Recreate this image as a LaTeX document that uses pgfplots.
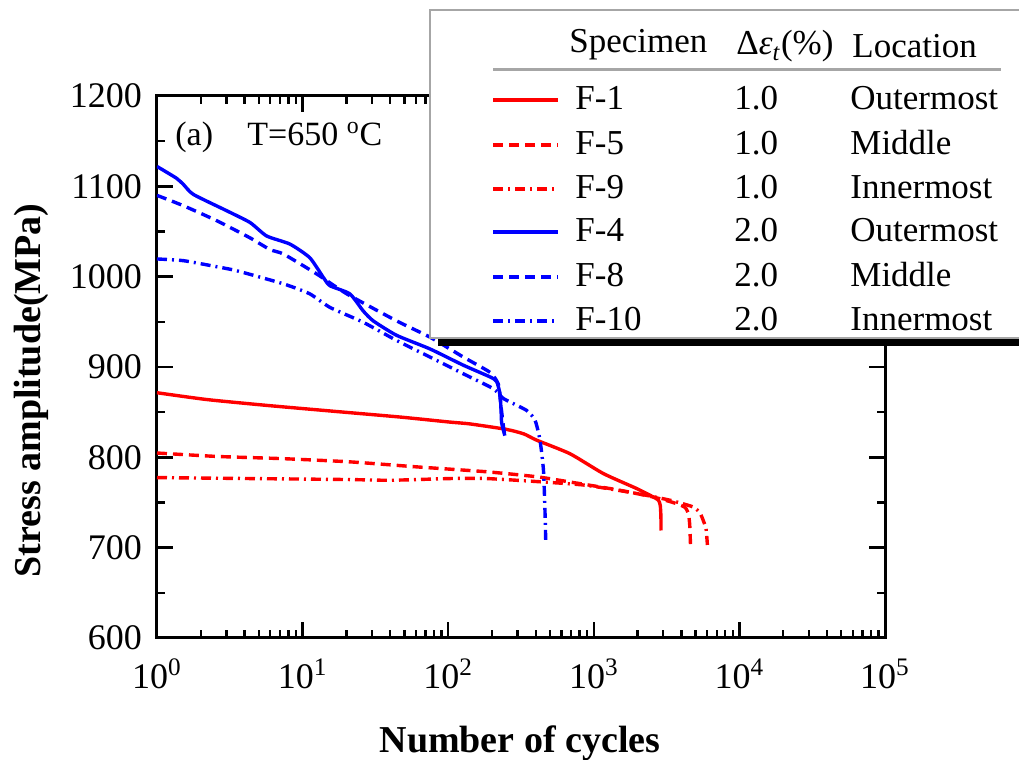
\documentclass[border=0pt]{standalone}
\usepackage{fontspec}
\setmainfont{Liberation Serif}
\usepackage{pgfplots}
\pgfplotsset{compat=1.18}
\begin{document}
\begin{tikzpicture}
\useasboundingbox (0,0) rectangle (509.5pt,380pt);
\begin{axis}[
  at={(78.5pt,61pt)}, anchor=south west,
  scale only axis, width=364pt, height=271pt,
  xmode=log, log basis x=10,
  xmin=1, xmax=100000, ymin=600, ymax=1200,
  xtick={1,10,100,1000,10000,100000},
  xticklabels={10\textsuperscript{0},10\textsuperscript{1},10\textsuperscript{2},10\textsuperscript{3},10\textsuperscript{4},10\textsuperscript{5}},
  minor xtick={2,3,4,5,6,7,8,9,20,30,40,50,60,70,80,90,200,300,400,500,600,700,800,900,2000,3000,4000,5000,6000,7000,8000,9000,20000,30000,40000,50000,60000,70000,80000,90000},
  ytick={600,700,800,900,1000,1100,1200},
  minor y tick num=1,
  /pgf/number format/assume math mode=true,
  /pgf/number format/1000 sep={},
  tick align=inside,
  major tick length=8pt, minor tick length=4pt,
  every tick/.style={black, line width=1.2pt},
  axis line style={line width=1.5pt},
  tick label style={font=\fontsize{18}{20}\selectfont},
  xticklabel style={yshift=-7pt},
  yticklabel style={xshift=-4pt},
  clip=true,
  every axis plot/.append style={smooth, tension=0.35, line join=round},
]
\addplot[red, line width=1.7pt] table {
1 871.5
2.19 864
5.67 857.5
16.3 851
46.7 844.6
103 839
141 837
250 831
330 826
405 819
686 804
1164 782
1972 765.4
2570 756
2780 752.5
2860 747
2890 735
2895 719
};
\addplot[red, line width=1.7pt, dash pattern=on 5pt off 3pt] table {
1 804.8
2.57 801
7.4 798.5
21.1 795
60 789.5
184 784
405 778.5
686 772.7
1513 763.5
2570 756
3500 750
4200 745
4460 738
4560 725
4620 701
};
\addplot[red, line width=1.7pt, dash pattern=on 5pt off 2.5pt on 1pt off 2.5pt] table {
1 777.6
4.35 776.5
21 775.4
40 774.6
103 776.5
184 776.5
450 772.7
890 769
1972 760
3340 752.5
4820 745
5370 738
5650 730
5900 721
6030 703
};
\addplot[blue, line width=1.7pt] table {
1 1122
1.36 1109
1.52 1102
1.78 1091
3.01 1073
4.35 1060
5.67 1045
8.2 1036
11.2 1021
13.9 999
15.4 990
21.1 981
26.1 962
30.6 951
44.3 935
75 920
127 902
194 889
215 884
227 870
231 850
233 838
245 824
};
\addplot[blue, line width=1.7pt, dash pattern=on 5pt off 3pt] table {
1 1090
1.52 1078.5
2.57 1062
4.35 1043
5.97 1030
7.4 1025
12.5 1003
20.1 981
44.3 951
75 933
127 911
194 894
221 881
228 863
240 833
245 824
};
\addplot[blue, line width=1.7pt, dash pattern=on 5pt off 2.5pt on 1pt off 2.5pt] table {
1 1019.6
1.52 1017.7
2.57 1011
3.52 1006.6
7.4 992
11.2 981
15.4 966
26.1 949.5
44.3 929.3
75 911
127 892.5
204 876
240 865
345 852
395 841
427 819
451 786
462 741
468 705
};
\end{axis}
\begin{scope}[yshift=380pt, x=0.5pt, y=-0.5pt]
  \node[anchor=base west, inner sep=0pt, font=\fontsize{17}{19}\selectfont] at (175,146) {(a)};
  \node[anchor=base west, inner sep=0pt, font=\fontsize{17}{19}\selectfont] at (247,146) {T=650 \textsuperscript{o}C};
  \node[anchor=base, inner sep=0pt, font=\fontsize{19}{21}\selectfont\bfseries] at (520,753) {Number of cycles};
  \node[anchor=base, inner sep=0pt, rotate=90, font=\fontsize{19}{21}\selectfont\bfseries] at (41,390.5) {Stress amplitude(MPa)};
  \fill[black] (438,18) rectangle (1040,346);
  \filldraw[fill=white, draw=gray!70, line width=0.8pt] (430,10) rectangle (1030,338);
  \begin{scope}[font=\fontsize{17.5}{19}\selectfont]
    \node[anchor=base west, inner sep=0pt] at (569,53) {Specimen};
    \node[anchor=base west, inner sep=0pt] at (736,55) {Δ\textit{ε}\textsubscript{\textit{t}}(\%)};
    \node[anchor=base west, inner sep=0pt] at (852,58) {Location};
    \draw[gray!70, line width=1.5pt] (493,70) -- (1001,70);
    \draw[red, line width=1.7pt] (493,100) -- (558,100);
    \draw[red, line width=1.7pt, dash pattern=on 5pt off 3pt] (493,145) -- (558,145);
    \draw[red, line width=1.7pt, dash pattern=on 5pt off 2.5pt on 1pt off 2.5pt] (493,189) -- (556,189);
    \draw[blue, line width=1.7pt] (493,232) -- (558,232);
    \draw[blue, line width=1.7pt, dash pattern=on 5pt off 3pt] (493,277) -- (558,277);
    \draw[blue, line width=1.7pt, dash pattern=on 5pt off 2.5pt on 1pt off 2.5pt] (493,321) -- (556,321);
    \foreach \yy/\nm/\vv/\loc in {100/F-1/1.0/Outermost, 145/F-5/1.0/Middle, 189/F-9/1.0/Innermost, 232/F-4/2.0/Outermost, 277/F-8/2.0/Middle, 321/F-10/2.0/Innermost} {
      \node[anchor=base west, inner sep=0pt] at (575,\yy+10) {\nm};
      \node[anchor=base west, inner sep=0pt] at (734,\yy+10) {\vv};
      \node[anchor=base west, inner sep=0pt] at (850,\yy+10) {\loc};
    }
  \end{scope}
\end{scope}
\end{tikzpicture}
\end{document}
